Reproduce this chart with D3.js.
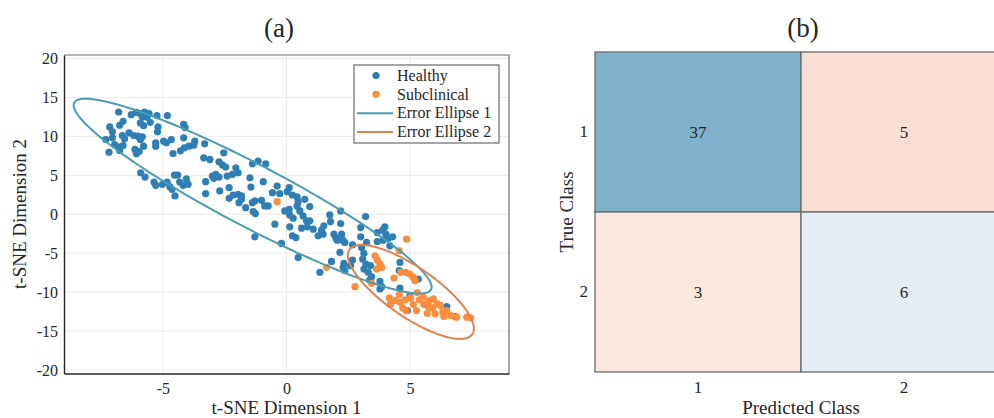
<!DOCTYPE html>
<html>
<head>
<meta charset="utf-8">
<script src="https://cdn.jsdelivr.net/npm/d3@7"></script>
<style>
  body { margin: 0; background: #fff; }
  svg text { font-family: "Liberation Serif", "Times New Roman", serif; fill: #262626; }
</style>
</head>
<body>
<svg id="chart" width="994" height="418"></svg>
<script>
// t-SNE points
var healthy = [
  [-6.79,13.13],[-6.28,12.79],[-6.07,13.09],[-5.91,12.92],[-5.74,13.13],[-5.56,12.92],[-5.64,12.45],[-5.83,12.49],[-5.24,12.67],[-4.82,12.67],
  [-6.61,11.94],[-6.75,11.43],[-7.15,11.22],[-7.04,10.58],[-5.91,11.73],[-5.78,11.39],[-5.51,11.81],[-5.20,11.22],[-5.22,10.58],[-4.16,11.56],[-4.10,11.13],
  [-7.31,9.59],[-7.04,9.81],[-6.64,10.11],[-6.55,9.68],[-6.37,10.45],[-6.18,10.11],[-6.01,10.02],[-5.91,9.59],[-5.83,9.94],
  [-6.95,8.96],[-6.82,8.66],[-6.75,8.19],[-7.18,7.97],[-6.61,8.83],[-6.13,8.32],[-6.07,7.76],[-5.96,8.06],[-5.78,8.74],
  [-5.29,9.17],[-5.29,8.74],[-4.97,9.38],[-4.86,9.17],[-4.66,9.59],[-4.59,7.80],[-4.29,8.14],[-4.13,8.53],[-4.16,9.81],[-3.95,8.74],[-3.75,8.87],[-3.71,9.38],
  [-5.90,5.33],[-5.72,4.78],[-5.36,4.14],[-5.29,3.71],[-5.02,3.84],[-4.83,4.14],[-4.72,3.54],[-4.63,3.20],[-4.53,5.03],[-4.40,5.03],[-4.32,4.14],[-4.18,3.71],[-4.05,4.56],[-3.98,3.84],[-4.51,2.35],
  [-3.31,9.04],[-3.35,7.25],[-3.10,7.04],[-2.54,7.89],[-2.73,6.74],[-2.59,6.31],[-2.46,6.06],[-2.05,5.97],[-1.96,5.33],[-1.38,6.48],[-1.15,6.82],[-0.84,6.48],
  [-2.86,5.12],[-3.00,4.90],[-2.94,4.61],[-2.73,4.78],[-2.40,4.90],[-2.19,5.12],[-3.27,4.18],[-2.70,2.99],[-3.27,2.64],[-2.32,3.41],[-1.48,4.69],[-0.94,4.18],[-1.44,3.50],
  [-2.16,2.47],[-1.96,2.56],[-1.82,2.35],[-1.92,1.49],[-1.82,1.92],[-2.32,2.05],[-1.65,0.85],[-1.38,1.49],[-1.28,1.71],[-1.01,1.79],[-1.35,0.34],[-1.26,0.09],[-0.88,1.07],[-0.74,1.07],
  [-0.38,3.62],[-0.57,2.77],[-0.27,2.64],
  [0.11,3.41],[0.03,2.90],[0.24,2.47],[0.43,2.22],[0.47,1.62],[0.74,1.92],[0.11,0.64],[-0.07,0.43],[0.43,1.07],[0.13,-0.09],[0.27,-0.51],[0.54,0.43],[0.67,-0.21],
  [0.81,-0.85],[0.94,-0.85],[0.84,-1.62],[0.61,-1.79],[1.08,-1.92],[1.28,-2.77],[-0.47,-1.28],[0.13,-1.62],[0.24,-2.77],[0.38,-2.99],[-1.28,-2.90],[-0.20,-3.75],[0.47,-5.54],[0.94,0.98],
  [1.42,-2.05],[1.51,-1.49],[1.48,-2.56],[1.75,-0.09],[1.78,-0.94],[2.19,0.43],[2.19,-1.19],[1.92,-2.56],[2.00,-3.07],[2.23,-2.56],[2.27,-3.33],[2.05,-3.33],[2.36,-3.62],[2.67,-3.92],
  [3.00,-1.71],[3.20,-0.30],[3.00,-2.90],[3.24,-3.62],[3.67,-2.35],[3.89,-2.05],[3.98,-1.62],[4.02,-2.56],[3.91,-3.33],[4.12,-3.07],[4.29,-2.90],[4.18,-4.05],[3.67,-3.50],
  [2.16,-4.90],[2.67,-5.88],[2.59,-6.61],[2.32,-6.31],[2.29,-6.82],[2.36,-7.25],[1.82,-6.06],[1.35,-7.46],[3.04,-4.26],[3.13,-5.03],[3.08,-5.76],[3.21,-6.40],[3.40,-6.61],
  [3.13,-7.04],[3.31,-7.46],[3.44,-8.02],[3.37,-8.44],[3.78,-8.61],[3.85,-9.30],[3.78,-9.59],[4.59,-6.18],[4.56,-7.25],[4.59,-9.47],[4.89,-12.37],[6.48,-11.85],[6.82,-13.13],
  [5.33,-8.32],[4.99,-10.45]
];
var subclinical = [
  [-0.38,1.62],[4.86,-3.20],[4.56,-4.69],[3.58,-5.33],[3.67,-5.88],[3.78,-6.40],[3.64,-7.04],[3.85,-6.82],[1.62,-6.82],[3.44,-8.87],[2.77,-9.30],
  [4.35,-8.19],[4.62,-7.46],[4.83,-7.46],[4.99,-7.68],[5.13,-8.10],[5.20,-8.53],
  [4.16,-10.75],[4.21,-11.51],[4.39,-11.09],[4.56,-10.32],[4.59,-11.30],[4.79,-11.00],[4.70,-12.03],[4.83,-12.37],[5.02,-10.75],[5.13,-11.60],
  [5.26,-12.37],[5.29,-10.06],[5.37,-11.00],[5.53,-10.66],[5.56,-11.60],[5.78,-11.09],[5.94,-10.87],[5.74,-11.85],[5.91,-12.03],[6.10,-11.51],
  [6.23,-11.73],[6.32,-12.58],[6.01,-12.79],[5.69,-12.71],[6.48,-12.37],[6.37,-13.13],[6.64,-13.01],[6.88,-13.22],[7.29,-13.22],[7.45,-13.30]
];

// error ellipses: centre and two conjugate half-diameters (data units)
var ellipse1Center = [-1.37, 2.33];
var ellipse1A = [7.24, -11.67];
var ellipse1B = [0, 4.5];
var ellipse2Center = [5.03, -9.97];
var ellipse2A = [2.55, -4.71];
var ellipse2B = [0, 3.77];

var xTicks = [-5, 0, 5];
var yTicks = [-20, -15, -10, -5, 0, 5, 10, 15, 20];
var legendLabels = ["Healthy", "Subclinical", "Error Ellipse 1", "Error Ellipse 2"];

// confusion matrix
var classes = ["1", "2"];
var confusion = [[37, 5], [3, 6]];

var blue = "#2f7fb5", orange = "#fc8d3c";
var teal = "#4a9cb5", rust = "#e0814f";
var serif = '"Liberation Serif", "Times New Roman", serif';

var svg = d3.select("#chart");

// ---------- (a) scatter ----------
var x = d3.scaleLinear().domain([-9, 9]).range([64, 509]);
var y = d3.scaleLinear().domain([-20.45, 20.45]).range([373.5, 55]);

var gA = svg.append("g");

gA.selectAll(".gx").data(xTicks).enter().append("line")
  .attr("x1", d => x(d)).attr("x2", d => x(d))
  .attr("y1", y.range()[1]).attr("y2", y.range()[0])
  .attr("stroke", "#ebebeb");
gA.selectAll(".gy").data(yTicks).enter().append("line")
  .attr("x1", x.range()[0]).attr("x2", x.range()[1])
  .attr("y1", d => y(d)).attr("y2", d => y(d))
  .attr("stroke", "#ebebeb");

// top / right frame
gA.append("path")
  .attr("d", "M" + x.range()[0] + "," + y.range()[1] + "H" + x.range()[1] + "V" + y.range()[0])
  .attr("fill", "none").attr("stroke", "#6e6e6e").attr("stroke-width", 1.2);

gA.append("g").selectAll("circle").data(healthy).enter().append("circle")
  .attr("cx", d => x(d[0])).attr("cy", d => y(d[1])).attr("r", 3.6)
  .attr("fill", blue);
gA.append("g").selectAll("circle").data(subclinical).enter().append("circle")
  .attr("cx", d => x(d[0])).attr("cy", d => y(d[1])).attr("r", 3.6)
  .attr("fill", orange);

function ellipsePoints(c, a, b) {
  return d3.range(0, 361, 2).map(function(deg) {
    var t = deg * Math.PI / 180;
    return [c[0] + Math.cos(t) * a[0] + Math.sin(t) * b[0],
            c[1] + Math.cos(t) * a[1] + Math.sin(t) * b[1]];
  });
}
var line = d3.line().x(d => x(d[0])).y(d => y(d[1]));

gA.append("path").attr("d", line(ellipsePoints(ellipse1Center, ellipse1A, ellipse1B)))
  .attr("fill", "none").attr("stroke", teal).attr("stroke-width", 2);
gA.append("path").attr("d", line(ellipsePoints(ellipse2Center, ellipse2A, ellipse2B)))
  .attr("fill", "none").attr("stroke", rust).attr("stroke-width", 2);

var xAxis = gA.append("g")
  .attr("transform", "translate(0," + y.range()[0] + ")")
  .call(d3.axisBottom(x).tickValues(xTicks).tickSize(0).tickPadding(9).tickFormat(d => String(d)));
var yAxis = gA.append("g")
  .attr("transform", "translate(" + x.range()[0] + ",0)")
  .call(d3.axisLeft(y).tickValues(yTicks).tickSize(0).tickPadding(6).tickFormat(d => String(d)));
[xAxis, yAxis].forEach(function(ax) {
  ax.attr("font-family", serif).attr("font-size", 16);
  ax.select(".domain").attr("stroke", "#262626").attr("stroke-width", 1.4);
  ax.selectAll("text").style("font-family", serif).style("font-size", "16px").attr("fill", "#262626");
});

gA.append("text").attr("x", 286.5).attr("y", 414)
  .attr("text-anchor", "middle").style("font-size", "19px").text("t-SNE Dimension 1");
gA.append("text").attr("transform", "translate(26,214) rotate(-90)")
  .attr("text-anchor", "middle").style("font-size", "19px").text("t-SNE Dimension 2");
gA.append("text").attr("x", 279).attr("y", 37)
  .attr("text-anchor", "middle").style("font-size", "27px").text("(a)");

// legend
var lg = gA.append("g");
lg.append("rect").attr("x", 354).attr("y", 65).attr("width", 145).attr("height", 78)
  .attr("fill", "#fff").attr("stroke", "#4d4d4d").attr("stroke-width", 1);
var legendRow = d3.scalePoint().domain(legendLabels).range([75.5, 132]);
var legendColor = [blue, orange, teal, rust];
legendLabels.forEach(function(name, i) {
  var ly = legendRow(name);
  if (i < 2) {
    lg.append("circle").attr("cx", 376).attr("cy", ly).attr("r", 3.6).attr("fill", legendColor[i]);
  } else {
    lg.append("line").attr("x1", 357).attr("x2", 393).attr("y1", ly).attr("y2", ly)
      .attr("stroke", legendColor[i]).attr("stroke-width", 2);
  }
  lg.append("text").attr("x", 397).attr("y", ly).attr("dy", "0.33em")
    .style("font-size", "16px").text(name);
});

// ---------- (b) confusion matrix ----------
var cx = d3.scaleBand().domain(classes).range([595, 1007]);
var cy = d3.scaleBand().domain(classes).range([52, 372]);
var diagColor = d3.scaleLinear().domain([6, 37]).range(["#e4ecf5", "#80b3cb"]);
var offColor = d3.scaleLinear().domain([3, 5]).range(["#f9e7e0", "#f8ded5"]);

var cells = [];
confusion.forEach(function(row, i) {
  row.forEach(function(v, j) { cells.push({ t: classes[i], p: classes[j], v: v, diag: i === j }); });
});

var gB = svg.append("g");
gB.selectAll("rect").data(cells).enter().append("rect")
  .attr("x", d => cx(d.p)).attr("y", d => cy(d.t))
  .attr("width", cx.bandwidth()).attr("height", cy.bandwidth())
  .attr("fill", d => d.diag ? diagColor(d.v) : offColor(d.v))
  .attr("stroke", "#6a6a6a").attr("stroke-width", 1.3);
gB.selectAll(".val").data(cells).enter().append("text")
  .attr("x", d => cx(d.p) + cx.bandwidth() / 2)
  .attr("y", d => cy(d.t) + cy.bandwidth() / 2)
  .attr("dy", "0.35em").attr("text-anchor", "middle")
  .style("font-size", "17px").text(d => d.v);

gB.append("g").attr("transform", "translate(595,0)")
  .call(d3.axisLeft(cy).tickSize(0).tickPadding(7))
  .attr("font-family", serif)
  .call(g => g.select(".domain").remove())
  .selectAll("text").style("font-family", serif).style("font-size", "17px").attr("fill", "#262626");
gB.append("g").attr("transform", "translate(0,372)")
  .call(d3.axisBottom(cx).tickSize(0).tickPadding(9))
  .attr("font-family", serif)
  .call(g => g.select(".domain").remove())
  .selectAll("text").style("font-family", serif).style("font-size", "17px").attr("fill", "#262626");

gB.append("text").attr("transform", "translate(573,212) rotate(-90)")
  .attr("text-anchor", "middle").style("font-size", "19px").text("True Class");
gB.append("text").attr("x", 801).attr("y", 414)
  .attr("text-anchor", "middle").style("font-size", "19px").text("Predicted Class");
gB.append("text").attr("x", 803).attr("y", 37)
  .attr("text-anchor", "middle").style("font-size", "27px").text("(b)");
</script>
</body>
</html>
